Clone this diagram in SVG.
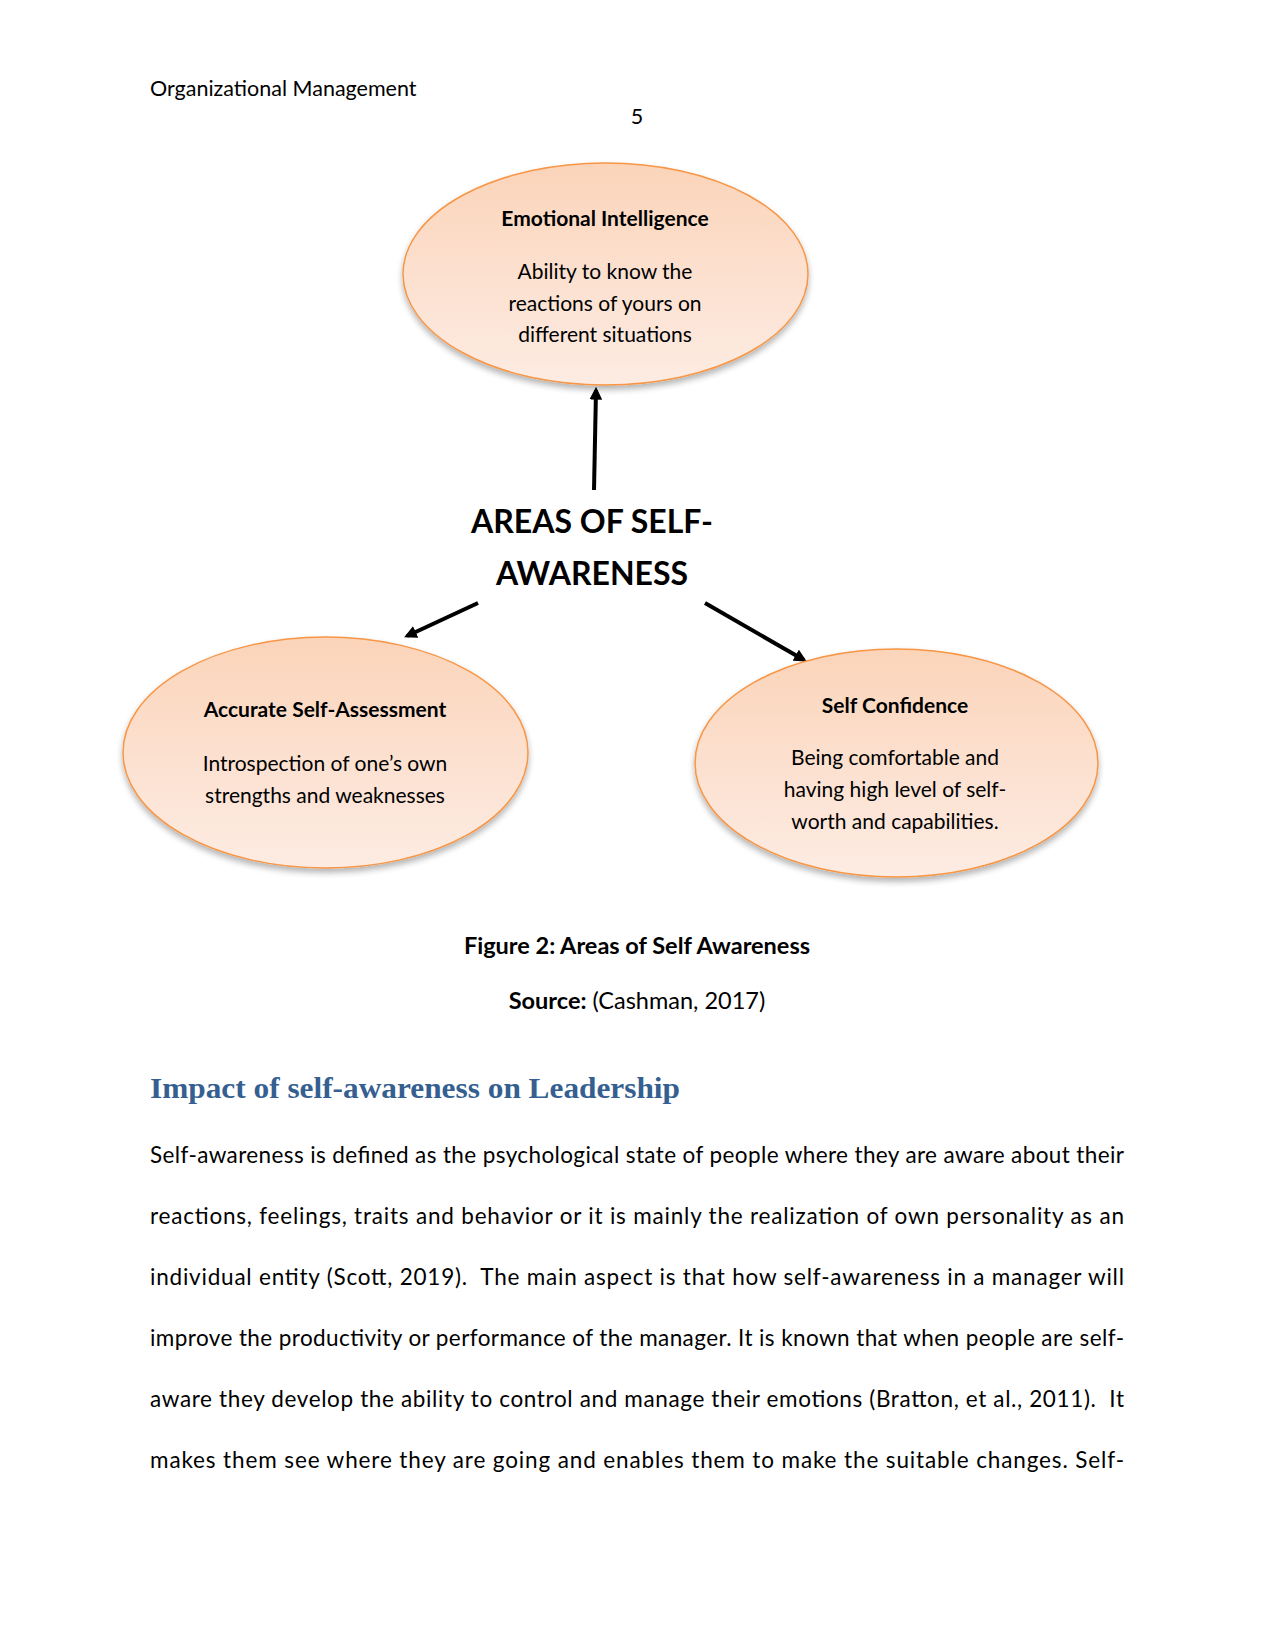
<svg xmlns="http://www.w3.org/2000/svg" width="1275" height="1650" viewBox="0 0 1275 1650">
<style>
  text { font-family: Lato, "Noto Sans", "Liberation Sans", sans-serif; fill: #000; }
  .hdr { font-size: 21.5px; }
  .nt { font-size: 21px; font-weight: bold; text-anchor: middle; }
  .nd { font-size: 21px; text-anchor: middle; }
  .ttl { font-size: 32px; font-weight: bold; text-anchor: middle; }
  .cap { font-size: 23.5px; text-anchor: middle; }
  .h2 { font-family: "Liberation Serif", "DejaVu Serif", serif; font-size: 29px; font-weight: bold; fill: #365F91; }
  .body { font-size: 22.5px; white-space: pre; }
  .ell { fill: url(#peach); stroke: #F79646; stroke-width: 1.5; filter: url(#shadow); }
  .conn { stroke: #000; stroke-width: 4; fill: none; marker-end: url(#arrow); }
</style>
<defs>
  <linearGradient id="peach" x1="0" y1="0" x2="0" y2="1">
    <stop offset="0" stop-color="#FBD4B9"/>
    <stop offset="0.5" stop-color="#FCE0CF"/>
    <stop offset="1" stop-color="#FDECE3"/>
  </linearGradient>
  <filter id="shadow" x="-10%" y="-10%" width="125%" height="130%">
    <feGaussianBlur in="SourceAlpha" stdDeviation="3"/>
    <feOffset dx="0" dy="4" result="b"/>
    <feComponentTransfer><feFuncA type="linear" slope="0.3"/></feComponentTransfer>
    <feMerge><feMergeNode/><feMergeNode in="SourceGraphic"/></feMerge>
  </filter>
  <marker id="arrow" markerWidth="3.2" markerHeight="3.2" refX="2.4" refY="1.6" orient="auto" markerUnits="strokeWidth">
    <path d="M0,0 L3.2,1.6 L0,3.2 z" fill="#000"/>
  </marker>
</defs>
<rect width="1275" height="1650" fill="#fff"/>

<text class="hdr" x="150" y="96">Organizational Management</text>
<text class="hdr" x="637" y="124" text-anchor="middle">5</text>

<g id="connectors">
  <line class="conn" x1="594" y1="490" x2="596" y2="390"/>
  <line class="conn" x1="478" y1="603" x2="407" y2="636"/>
  <line class="conn" x1="705" y1="603" x2="804" y2="660"/>
</g>

<g id="node-emotional">
  <ellipse class="ell" cx="605.5" cy="274" rx="202.5" ry="111"/>
  <text class="nt" x="605" y="226">Emotional Intelligence</text>
  <text class="nd" x="605" y="279">Ability to know the</text>
  <text class="nd" x="605" y="311">reactions of yours on</text>
  <text class="nd" x="605" y="342">different situations</text>
</g>

<g id="node-center">
  <text class="ttl" x="592" y="533">AREAS OF SELF-</text>
  <text class="ttl" x="592" y="585">AWARENESS</text>
</g>

<g id="node-assessment">
  <ellipse class="ell" cx="325.5" cy="752.5" rx="202.5" ry="115.5"/>
  <text class="nt" x="325" y="717">Accurate Self-Assessment</text>
  <text class="nd" x="325" y="771">Introspection of one’s own</text>
  <text class="nd" x="325" y="803">strengths and weaknesses</text>
</g>

<g id="node-confidence">
  <ellipse class="ell" cx="896.5" cy="763" rx="201.5" ry="114"/>
  <text class="nt" x="895" y="713">Self Confidence</text>
  <text class="nd" x="895" y="765">Being comfortable and</text>
  <text class="nd" x="895" y="797">having high level of self-</text>
  <text class="nd" x="895" y="829">worth and capabilities.</text>
</g>

<text class="cap" x="637" y="954" font-weight="bold">Figure 2: Areas of Self Awareness</text>
<text class="cap" x="637" y="1009"><tspan font-weight="bold">Source:</tspan> (Cashman, 2017)</text>

<text class="h2" x="150" y="1098" textLength="530" lengthAdjust="spacingAndGlyphs">Impact of self-awareness on Leadership</text>

<text class="body" x="150" y="1163" textLength="974" lengthAdjust="spacing">Self-awareness is defined as the psychological state of people where they are aware about their</text>
<text class="body" x="150" y="1224" textLength="974" lengthAdjust="spacing">reactions, feelings, traits and behavior or it is mainly the realization of own personality as an</text>
<text class="body" x="150" y="1285" textLength="974" lengthAdjust="spacing" xml:space="preserve">individual entity (Scott, 2019).  The main aspect is that how self-awareness in a manager will</text>
<text class="body" x="150" y="1346" textLength="974" lengthAdjust="spacing">improve the productivity or performance of the manager. It is known that when people are self-</text>
<text class="body" x="150" y="1407" textLength="974" lengthAdjust="spacing" xml:space="preserve">aware they develop the ability to control and manage their emotions (Bratton, et al., 2011).  It</text>
<text class="body" x="150" y="1468" textLength="974" lengthAdjust="spacing">makes them see where they are going and enables them to make the suitable changes. Self-</text>
</svg>
